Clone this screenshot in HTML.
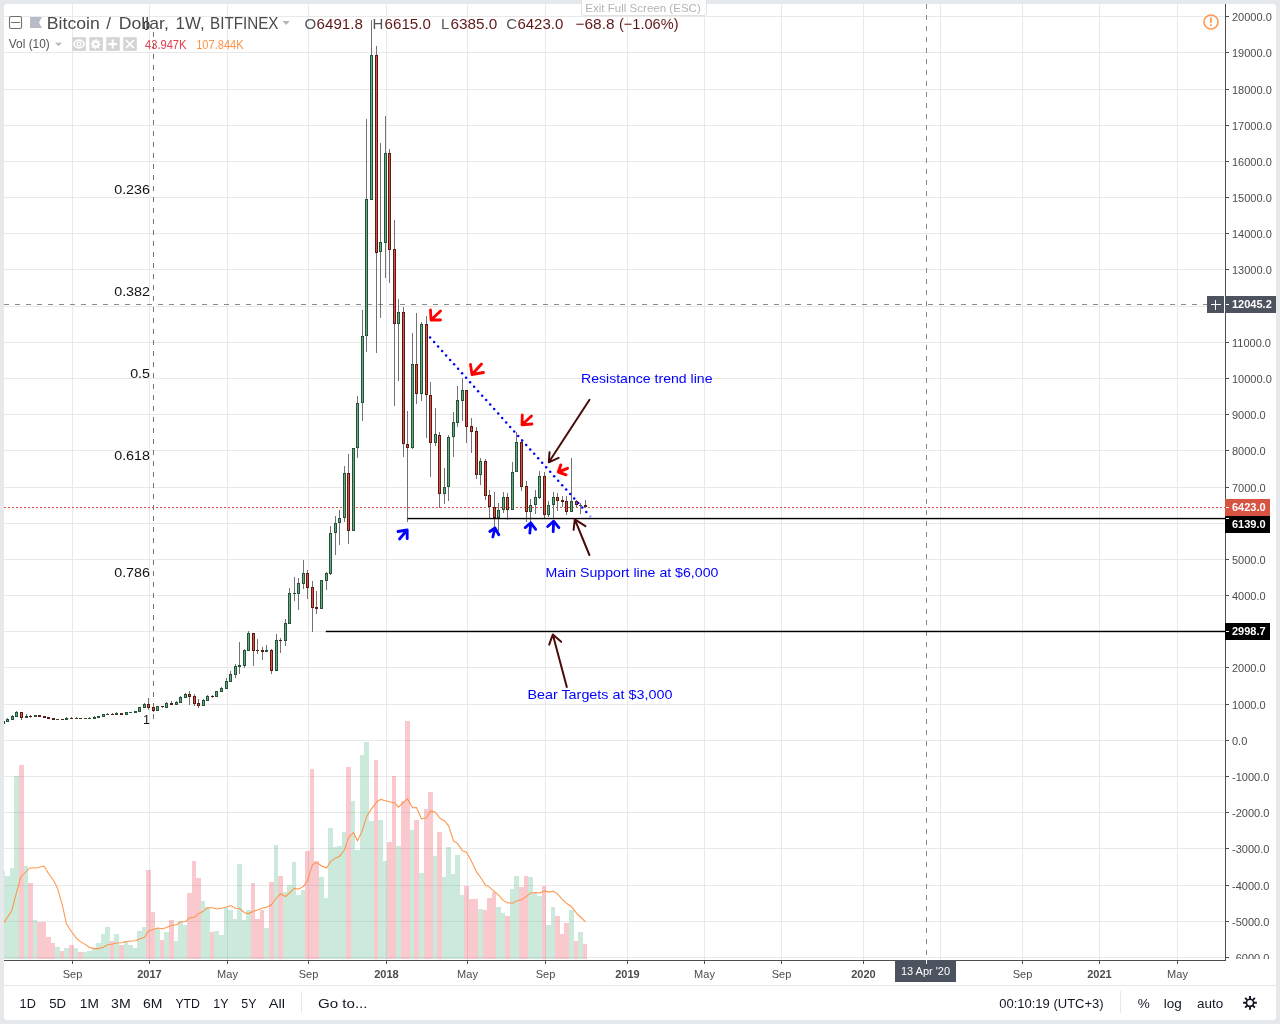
<!DOCTYPE html>
<html><head><meta charset="utf-8"><title>BTCUSD</title>
<style>html,body{margin:0;padding:0;width:1280px;height:1024px;overflow:hidden;background:#e6e9ec}</style>
</head><body>
<svg width="1280" height="1024" viewBox="0 0 1280 1024" style="position:absolute;left:0;top:0;will-change:transform"><rect x="0" y="0" width="1280" height="1024" fill="#e6e9ec"/><rect x="4" y="4" width="1272" height="1016" rx="3" ry="3" fill="#ffffff"/><rect x="4" y="985" width="1272" height="1" fill="#e6e9ec"/><g shape-rendering="crispEdges"><rect x="4" y="957" width="1221" height="1" fill="#e9e9ea"/><rect x="4" y="921" width="1221" height="1" fill="#e9e9ea"/><rect x="4" y="885" width="1221" height="1" fill="#e9e9ea"/><rect x="4" y="848" width="1221" height="1" fill="#e9e9ea"/><rect x="4" y="812" width="1221" height="1" fill="#e9e9ea"/><rect x="4" y="776" width="1221" height="1" fill="#e9e9ea"/><rect x="4" y="740" width="1221" height="1" fill="#e9e9ea"/><rect x="4" y="704" width="1221" height="1" fill="#e9e9ea"/><rect x="4" y="667" width="1221" height="1" fill="#e9e9ea"/><rect x="4" y="631" width="1221" height="1" fill="#e9e9ea"/><rect x="4" y="595" width="1221" height="1" fill="#e9e9ea"/><rect x="4" y="559" width="1221" height="1" fill="#e9e9ea"/><rect x="4" y="523" width="1221" height="1" fill="#e9e9ea"/><rect x="4" y="487" width="1221" height="1" fill="#e9e9ea"/><rect x="4" y="450" width="1221" height="1" fill="#e9e9ea"/><rect x="4" y="414" width="1221" height="1" fill="#e9e9ea"/><rect x="4" y="378" width="1221" height="1" fill="#e9e9ea"/><rect x="4" y="342" width="1221" height="1" fill="#e9e9ea"/><rect x="4" y="306" width="1221" height="1" fill="#e9e9ea"/><rect x="4" y="269" width="1221" height="1" fill="#e9e9ea"/><rect x="4" y="233" width="1221" height="1" fill="#e9e9ea"/><rect x="4" y="197" width="1221" height="1" fill="#e9e9ea"/><rect x="4" y="161" width="1221" height="1" fill="#e9e9ea"/><rect x="4" y="125" width="1221" height="1" fill="#e9e9ea"/><rect x="4" y="89" width="1221" height="1" fill="#e9e9ea"/><rect x="4" y="52" width="1221" height="1" fill="#e9e9ea"/><rect x="4" y="16" width="1221" height="1" fill="#e9e9ea"/><rect x="72" y="4" width="1" height="956" fill="#e9e9ea"/><rect x="149" y="4" width="1" height="956" fill="#e9e9ea"/><rect x="227" y="4" width="1" height="956" fill="#e9e9ea"/><rect x="308" y="4" width="1" height="956" fill="#e9e9ea"/><rect x="386" y="4" width="1" height="956" fill="#e9e9ea"/><rect x="467" y="4" width="1" height="956" fill="#e9e9ea"/><rect x="545" y="4" width="1" height="956" fill="#e9e9ea"/><rect x="627" y="4" width="1" height="956" fill="#e9e9ea"/><rect x="704" y="4" width="1" height="956" fill="#e9e9ea"/><rect x="781" y="4" width="1" height="956" fill="#e9e9ea"/><rect x="863" y="4" width="1" height="956" fill="#e9e9ea"/><rect x="940" y="4" width="1" height="956" fill="#e9e9ea"/><rect x="1022" y="4" width="1" height="956" fill="#e9e9ea"/><rect x="1099" y="4" width="1" height="956" fill="#e9e9ea"/><rect x="1177" y="4" width="1" height="956" fill="#e9e9ea"/></g><defs><clipPath id="chartclip"><rect x="4" y="4" width="1221" height="956"/></clipPath></defs><g shape-rendering="crispEdges" clip-path="url(#chartclip)"><rect x="4" y="871" width="1" height="88" fill="rgba(83,185,135,0.3)"/><rect x="5" y="876" width="5" height="83" fill="rgba(83,185,135,0.3)"/><rect x="10" y="868" width="4" height="91" fill="rgba(83,185,135,0.3)"/><rect x="14" y="776" width="5" height="183" fill="rgba(83,185,135,0.3)"/><rect x="19" y="765" width="5" height="194" fill="rgba(235,77,92,0.3)"/><rect x="24" y="866" width="4" height="93" fill="rgba(83,185,135,0.3)"/><rect x="28" y="883" width="5" height="76" fill="rgba(235,77,92,0.3)"/><rect x="33" y="920" width="4" height="39" fill="rgba(83,185,135,0.3)"/><rect x="37" y="922" width="5" height="37" fill="rgba(235,77,92,0.3)"/><rect x="42" y="922" width="4" height="37" fill="rgba(235,77,92,0.3)"/><rect x="46" y="937" width="5" height="22" fill="rgba(235,77,92,0.3)"/><rect x="51" y="943" width="4" height="16" fill="rgba(235,77,92,0.3)"/><rect x="55" y="947" width="5" height="12" fill="rgba(83,185,135,0.3)"/><rect x="60" y="951" width="4" height="8" fill="rgba(235,77,92,0.3)"/><rect x="64" y="948" width="5" height="11" fill="rgba(83,185,135,0.3)"/><rect x="69" y="945" width="5" height="14" fill="rgba(235,77,92,0.3)"/><rect x="74" y="948" width="4" height="11" fill="rgba(83,185,135,0.3)"/><rect x="78" y="952" width="5" height="7" fill="rgba(235,77,92,0.3)"/><rect x="83" y="952" width="4" height="7" fill="rgba(83,185,135,0.3)"/><rect x="87" y="951" width="5" height="8" fill="rgba(83,185,135,0.3)"/><rect x="92" y="948" width="4" height="11" fill="rgba(83,185,135,0.3)"/><rect x="96" y="943" width="5" height="16" fill="rgba(83,185,135,0.3)"/><rect x="101" y="934" width="4" height="25" fill="rgba(83,185,135,0.3)"/><rect x="105" y="927" width="5" height="32" fill="rgba(83,185,135,0.3)"/><rect x="110" y="941" width="4" height="18" fill="rgba(235,77,92,0.3)"/><rect x="114" y="934" width="5" height="25" fill="rgba(83,185,135,0.3)"/><rect x="119" y="945" width="5" height="14" fill="rgba(235,77,92,0.3)"/><rect x="124" y="941" width="4" height="18" fill="rgba(83,185,135,0.3)"/><rect x="128" y="945" width="5" height="14" fill="rgba(83,185,135,0.3)"/><rect x="133" y="948" width="4" height="11" fill="rgba(83,185,135,0.3)"/><rect x="137" y="931" width="5" height="28" fill="rgba(83,185,135,0.3)"/><rect x="142" y="927" width="4" height="32" fill="rgba(83,185,135,0.3)"/><rect x="146" y="870" width="5" height="89" fill="rgba(235,77,92,0.3)"/><rect x="151" y="912" width="4" height="47" fill="rgba(235,77,92,0.3)"/><rect x="155" y="928" width="5" height="31" fill="rgba(83,185,135,0.3)"/><rect x="160" y="940" width="4" height="19" fill="rgba(235,77,92,0.3)"/><rect x="164" y="932" width="5" height="27" fill="rgba(83,185,135,0.3)"/><rect x="169" y="920" width="5" height="39" fill="rgba(235,77,92,0.3)"/><rect x="174" y="941" width="4" height="18" fill="rgba(83,185,135,0.3)"/><rect x="178" y="921" width="5" height="38" fill="rgba(83,185,135,0.3)"/><rect x="183" y="925" width="4" height="34" fill="rgba(83,185,135,0.3)"/><rect x="187" y="893" width="5" height="66" fill="rgba(235,77,92,0.3)"/><rect x="192" y="861" width="4" height="98" fill="rgba(235,77,92,0.3)"/><rect x="196" y="878" width="5" height="81" fill="rgba(235,77,92,0.3)"/><rect x="201" y="901" width="4" height="58" fill="rgba(83,185,135,0.3)"/><rect x="205" y="907" width="5" height="52" fill="rgba(83,185,135,0.3)"/><rect x="210" y="932" width="4" height="27" fill="rgba(235,77,92,0.3)"/><rect x="214" y="931" width="5" height="28" fill="rgba(83,185,135,0.3)"/><rect x="219" y="935" width="5" height="24" fill="rgba(83,185,135,0.3)"/><rect x="224" y="908" width="4" height="51" fill="rgba(83,185,135,0.3)"/><rect x="228" y="910" width="5" height="49" fill="rgba(83,185,135,0.3)"/><rect x="233" y="919" width="4" height="40" fill="rgba(83,185,135,0.3)"/><rect x="237" y="864" width="5" height="95" fill="rgba(83,185,135,0.3)"/><rect x="242" y="920" width="4" height="39" fill="rgba(83,185,135,0.3)"/><rect x="246" y="910" width="5" height="49" fill="rgba(83,185,135,0.3)"/><rect x="251" y="883" width="4" height="76" fill="rgba(235,77,92,0.3)"/><rect x="255" y="919" width="5" height="40" fill="rgba(235,77,92,0.3)"/><rect x="260" y="910" width="4" height="49" fill="rgba(235,77,92,0.3)"/><rect x="264" y="928" width="5" height="31" fill="rgba(83,185,135,0.3)"/><rect x="269" y="882" width="5" height="77" fill="rgba(235,77,92,0.3)"/><rect x="274" y="845" width="4" height="114" fill="rgba(83,185,135,0.3)"/><rect x="278" y="876" width="5" height="83" fill="rgba(235,77,92,0.3)"/><rect x="283" y="892" width="4" height="67" fill="rgba(83,185,135,0.3)"/><rect x="287" y="885" width="5" height="74" fill="rgba(83,185,135,0.3)"/><rect x="292" y="862" width="4" height="97" fill="rgba(83,185,135,0.3)"/><rect x="296" y="895" width="5" height="64" fill="rgba(83,185,135,0.3)"/><rect x="301" y="890" width="4" height="69" fill="rgba(83,185,135,0.3)"/><rect x="305" y="851" width="5" height="108" fill="rgba(235,77,92,0.3)"/><rect x="310" y="769" width="4" height="190" fill="rgba(235,77,92,0.3)"/><rect x="314" y="861" width="5" height="98" fill="rgba(235,77,92,0.3)"/><rect x="319" y="877" width="5" height="82" fill="rgba(83,185,135,0.3)"/><rect x="324" y="898" width="4" height="61" fill="rgba(83,185,135,0.3)"/><rect x="328" y="828" width="5" height="131" fill="rgba(83,185,135,0.3)"/><rect x="333" y="847" width="4" height="112" fill="rgba(83,185,135,0.3)"/><rect x="337" y="846" width="5" height="113" fill="rgba(83,185,135,0.3)"/><rect x="342" y="832" width="4" height="127" fill="rgba(83,185,135,0.3)"/><rect x="346" y="767" width="5" height="192" fill="rgba(235,77,92,0.3)"/><rect x="351" y="801" width="4" height="158" fill="rgba(83,185,135,0.3)"/><rect x="355" y="850" width="5" height="109" fill="rgba(83,185,135,0.3)"/><rect x="360" y="755" width="4" height="204" fill="rgba(83,185,135,0.3)"/><rect x="364" y="742" width="5" height="217" fill="rgba(83,185,135,0.3)"/><rect x="369" y="821" width="5" height="138" fill="rgba(83,185,135,0.3)"/><rect x="374" y="760" width="4" height="199" fill="rgba(235,77,92,0.3)"/><rect x="378" y="820" width="5" height="139" fill="rgba(83,185,135,0.3)"/><rect x="383" y="861" width="4" height="98" fill="rgba(83,185,135,0.3)"/><rect x="387" y="842" width="5" height="117" fill="rgba(235,77,92,0.3)"/><rect x="392" y="776" width="4" height="183" fill="rgba(235,77,92,0.3)"/><rect x="396" y="846" width="5" height="113" fill="rgba(83,185,135,0.3)"/><rect x="401" y="801" width="4" height="158" fill="rgba(235,77,92,0.3)"/><rect x="405" y="721" width="5" height="238" fill="rgba(235,77,92,0.3)"/><rect x="410" y="830" width="4" height="129" fill="rgba(83,185,135,0.3)"/><rect x="414" y="820" width="5" height="139" fill="rgba(235,77,92,0.3)"/><rect x="419" y="873" width="5" height="86" fill="rgba(83,185,135,0.3)"/><rect x="424" y="809" width="4" height="150" fill="rgba(235,77,92,0.3)"/><rect x="428" y="792" width="5" height="167" fill="rgba(235,77,92,0.3)"/><rect x="433" y="856" width="4" height="103" fill="rgba(83,185,135,0.3)"/><rect x="437" y="832" width="5" height="127" fill="rgba(235,77,92,0.3)"/><rect x="442" y="877" width="4" height="82" fill="rgba(83,185,135,0.3)"/><rect x="446" y="847" width="5" height="112" fill="rgba(83,185,135,0.3)"/><rect x="451" y="874" width="4" height="85" fill="rgba(83,185,135,0.3)"/><rect x="455" y="855" width="5" height="104" fill="rgba(83,185,135,0.3)"/><rect x="460" y="895" width="4" height="64" fill="rgba(83,185,135,0.3)"/><rect x="464" y="886" width="5" height="73" fill="rgba(235,77,92,0.3)"/><rect x="469" y="899" width="5" height="60" fill="rgba(235,77,92,0.3)"/><rect x="474" y="899" width="4" height="60" fill="rgba(235,77,92,0.3)"/><rect x="478" y="909" width="5" height="50" fill="rgba(83,185,135,0.3)"/><rect x="483" y="910" width="4" height="49" fill="rgba(235,77,92,0.3)"/><rect x="487" y="898" width="5" height="61" fill="rgba(235,77,92,0.3)"/><rect x="492" y="892" width="4" height="67" fill="rgba(235,77,92,0.3)"/><rect x="496" y="907" width="5" height="52" fill="rgba(83,185,135,0.3)"/><rect x="501" y="913" width="4" height="46" fill="rgba(83,185,135,0.3)"/><rect x="505" y="916" width="5" height="43" fill="rgba(235,77,92,0.3)"/><rect x="510" y="889" width="4" height="70" fill="rgba(83,185,135,0.3)"/><rect x="514" y="876" width="5" height="83" fill="rgba(83,185,135,0.3)"/><rect x="519" y="887" width="5" height="72" fill="rgba(235,77,92,0.3)"/><rect x="524" y="876" width="4" height="83" fill="rgba(235,77,92,0.3)"/><rect x="528" y="877" width="5" height="82" fill="rgba(83,185,135,0.3)"/><rect x="533" y="893" width="4" height="66" fill="rgba(83,185,135,0.3)"/><rect x="537" y="896" width="5" height="63" fill="rgba(83,185,135,0.3)"/><rect x="542" y="886" width="4" height="73" fill="rgba(235,77,92,0.3)"/><rect x="546" y="925" width="5" height="34" fill="rgba(83,185,135,0.3)"/><rect x="551" y="907" width="4" height="52" fill="rgba(83,185,135,0.3)"/><rect x="555" y="916" width="5" height="43" fill="rgba(235,77,92,0.3)"/><rect x="560" y="934" width="4" height="25" fill="rgba(235,77,92,0.3)"/><rect x="564" y="923" width="5" height="36" fill="rgba(235,77,92,0.3)"/><rect x="569" y="910" width="5" height="49" fill="rgba(83,185,135,0.3)"/><rect x="574" y="941" width="4" height="18" fill="rgba(235,77,92,0.3)"/><rect x="578" y="932" width="5" height="27" fill="rgba(83,185,135,0.3)"/><rect x="583" y="944" width="4" height="15" fill="rgba(235,77,92,0.3)"/></g><path d="M3.9,922.6 L11.6,911.0 L20.7,877.0 L29.8,868.0 L36.2,868.0 L44.0,866.0 L48.5,873.5 L53.5,880.3 L57.5,888.2 L62.5,905.6 L66.5,924.0 L71.5,931.8 L76.5,938.4 L80.5,941.6 L85.5,944.6 L89.5,947.4 L94.5,948.6 L98.5,948.6 L103.5,947.3 L107.5,944.8 L112.5,944.1 L116.5,943.0 L121.5,942.7 L126.5,941.5 L130.5,940.9 L135.5,940.7 L139.5,939.0 L144.5,937.3 L148.5,930.9 L153.5,929.4 L157.5,928.1 L162.5,928.7 L166.5,927.4 L171.5,925.2 L176.5,924.8 L180.5,922.1 L185.5,921.5 L189.5,918.1 L194.5,917.2 L198.5,913.8 L203.5,911.1 L207.5,907.8 L212.5,907.8 L216.5,909.0 L221.5,908.3 L226.5,907.1 L230.5,905.6 L235.5,908.2 L239.5,908.5 L244.5,912.7 L248.5,913.6 L253.5,911.3 L257.5,910.0 L262.5,907.9 L266.5,907.2 L271.5,904.5 L276.5,898.0 L280.5,893.7 L285.5,896.5 L289.5,893.0 L294.5,888.2 L298.5,889.3 L303.5,886.4 L307.5,880.5 L312.5,864.7 L316.5,862.6 L321.5,865.8 L326.5,868.0 L330.5,861.7 L335.5,857.9 L339.5,856.2 L344.5,850.0 L348.5,837.7 L353.5,832.7 L357.5,840.8 L362.5,830.1 L366.5,816.6 L371.5,808.9 L376.5,802.1 L380.5,799.4 L385.5,800.8 L389.5,801.8 L394.5,802.7 L398.5,807.2 L403.5,802.3 L407.5,798.9 L412.5,807.7 L416.5,807.6 L421.5,818.9 L426.5,817.8 L430.5,810.9 L435.5,812.3 L439.5,817.9 L444.5,821.0 L448.5,825.6 L453.5,840.9 L457.5,843.4 L462.5,850.9 L466.5,852.2 L471.5,861.2 L476.5,871.9 L480.5,877.2 L485.5,885.0 L489.5,887.1 L494.5,891.6 L498.5,894.9 L503.5,900.7 L507.5,902.8 L512.5,903.2 L516.5,900.9 L521.5,899.7 L526.5,896.4 L530.5,893.1 L535.5,892.6 L539.5,893.0 L544.5,890.9 L548.5,892.1 L553.5,891.2 L557.5,893.9 L562.5,899.7 L566.5,903.3 L571.5,906.7 L576.5,913.1 L580.5,917.0 L585.5,921.8" fill="none" stroke="#ff9448" stroke-width="1.05"/><line x1="153.5" y1="32" x2="153.5" y2="720" stroke="#747474" stroke-width="1" stroke-dasharray="5,6" shape-rendering="crispEdges"/><text x="150" y="29.5" font-family='"Liberation Sans", sans-serif' font-size="12.5" font-weight="normal" text-anchor="end" fill="#131313">0</text><text x="150" y="194" font-family='"Liberation Sans", sans-serif' font-size="12.5" font-weight="normal" text-anchor="end" fill="#131313" textLength="35.8" lengthAdjust="spacingAndGlyphs">0.236</text><text x="150" y="296" font-family='"Liberation Sans", sans-serif' font-size="12.5" font-weight="normal" text-anchor="end" fill="#131313" textLength="35.8" lengthAdjust="spacingAndGlyphs">0.382</text><text x="150" y="377.6" font-family='"Liberation Sans", sans-serif' font-size="12.5" font-weight="normal" text-anchor="end" fill="#131313" textLength="19.8" lengthAdjust="spacingAndGlyphs">0.5</text><text x="150" y="460.3" font-family='"Liberation Sans", sans-serif' font-size="12.5" font-weight="normal" text-anchor="end" fill="#131313" textLength="35.8" lengthAdjust="spacingAndGlyphs">0.618</text><text x="150" y="577" font-family='"Liberation Sans", sans-serif' font-size="12.5" font-weight="normal" text-anchor="end" fill="#131313" textLength="35.8" lengthAdjust="spacingAndGlyphs">0.786</text><text x="150" y="724.4" font-family='"Liberation Sans", sans-serif' font-size="12.5" font-weight="normal" text-anchor="end" fill="#131313">1</text><line x1="4" y1="304.5" x2="1207" y2="304.5" stroke="#8a8a8a" stroke-width="1" stroke-dasharray="5,6" shape-rendering="crispEdges"/><line x1="926.5" y1="4" x2="926.5" y2="960" stroke="#8a8a8a" stroke-width="1" stroke-dasharray="5,6" shape-rendering="crispEdges"/><line x1="4" y1="507.5" x2="1225" y2="507.5" stroke="#d75442" stroke-width="1" stroke-dasharray="2,2" shape-rendering="crispEdges"/><g shape-rendering="crispEdges" clip-path="url(#chartclip)"><rect x="3" y="721" width="1" height="4" fill="#737375"/><rect x="2" y="721" width="3" height="3" fill="#225437"/><rect x="3" y="722" width="1" height="1" fill="#6ba583"/><rect x="7" y="718" width="1" height="4" fill="#737375"/><rect x="6" y="719" width="3" height="3" fill="#225437"/><rect x="7" y="720" width="1" height="1" fill="#6ba583"/><rect x="12" y="715" width="1" height="5" fill="#737375"/><rect x="11" y="716" width="3" height="4" fill="#225437"/><rect x="12" y="717" width="1" height="2" fill="#6ba583"/><rect x="16" y="711" width="1" height="6" fill="#737375"/><rect x="15" y="712" width="3" height="5" fill="#225437"/><rect x="16" y="713" width="1" height="3" fill="#6ba583"/><rect x="21" y="712" width="1" height="8" fill="#737375"/><rect x="20" y="712" width="3" height="6" fill="#5b1a13"/><rect x="21" y="713" width="1" height="4" fill="#d75442"/><rect x="26" y="714" width="1" height="4" fill="#737375"/><rect x="25" y="716" width="3" height="2" fill="#225437"/><rect x="30" y="715" width="1" height="3" fill="#737375"/><rect x="29" y="716" width="3" height="1" fill="#5b1a13"/><rect x="35" y="715" width="1" height="2" fill="#737375"/><rect x="34" y="715" width="3" height="2" fill="#225437"/><rect x="39" y="715" width="1" height="2" fill="#737375"/><rect x="38" y="715" width="3" height="2" fill="#5b1a13"/><rect x="44" y="716" width="1" height="2" fill="#737375"/><rect x="43" y="716" width="3" height="2" fill="#5b1a13"/><rect x="48" y="717" width="1" height="2" fill="#737375"/><rect x="47" y="717" width="3" height="2" fill="#5b1a13"/><rect x="53" y="718" width="1" height="2" fill="#737375"/><rect x="52" y="718" width="3" height="2" fill="#5b1a13"/><rect x="57" y="719" width="1" height="1" fill="#737375"/><rect x="56" y="719" width="3" height="1" fill="#225437"/><rect x="62" y="719" width="1" height="1" fill="#737375"/><rect x="61" y="719" width="3" height="1" fill="#5b1a13"/><rect x="66" y="717" width="1" height="3" fill="#737375"/><rect x="65" y="718" width="3" height="2" fill="#225437"/><rect x="71" y="717" width="1" height="2" fill="#737375"/><rect x="70" y="718" width="3" height="1" fill="#5b1a13"/><rect x="76" y="717" width="1" height="2" fill="#737375"/><rect x="75" y="718" width="3" height="1" fill="#225437"/><rect x="80" y="718" width="1" height="1" fill="#737375"/><rect x="79" y="718" width="3" height="1" fill="#5b1a13"/><rect x="85" y="718" width="1" height="1" fill="#737375"/><rect x="84" y="718" width="3" height="1" fill="#225437"/><rect x="89" y="717" width="1" height="2" fill="#737375"/><rect x="88" y="718" width="3" height="1" fill="#225437"/><rect x="94" y="716" width="1" height="3" fill="#737375"/><rect x="93" y="717" width="3" height="2" fill="#225437"/><rect x="98" y="716" width="1" height="2" fill="#737375"/><rect x="97" y="716" width="3" height="2" fill="#225437"/><rect x="103" y="714" width="1" height="3" fill="#737375"/><rect x="102" y="714" width="3" height="3" fill="#225437"/><rect x="103" y="715" width="1" height="1" fill="#6ba583"/><rect x="107" y="713" width="1" height="2" fill="#737375"/><rect x="106" y="714" width="3" height="1" fill="#225437"/><rect x="112" y="713" width="1" height="2" fill="#737375"/><rect x="111" y="714" width="3" height="1" fill="#5b1a13"/><rect x="116" y="712" width="1" height="3" fill="#737375"/><rect x="115" y="713" width="3" height="2" fill="#225437"/><rect x="121" y="713" width="1" height="2" fill="#737375"/><rect x="120" y="713" width="3" height="2" fill="#5b1a13"/><rect x="126" y="712" width="1" height="3" fill="#737375"/><rect x="125" y="712" width="3" height="3" fill="#225437"/><rect x="126" y="713" width="1" height="1" fill="#6ba583"/><rect x="130" y="712" width="1" height="1" fill="#737375"/><rect x="129" y="712" width="3" height="1" fill="#225437"/><rect x="135" y="711" width="1" height="2" fill="#737375"/><rect x="134" y="711" width="3" height="2" fill="#225437"/><rect x="139" y="707" width="1" height="5" fill="#737375"/><rect x="138" y="707" width="3" height="5" fill="#225437"/><rect x="139" y="708" width="1" height="3" fill="#6ba583"/><rect x="144" y="703" width="1" height="5" fill="#737375"/><rect x="143" y="704" width="3" height="4" fill="#225437"/><rect x="144" y="705" width="1" height="2" fill="#6ba583"/><rect x="148" y="698" width="1" height="12" fill="#737375"/><rect x="147" y="704" width="3" height="4" fill="#5b1a13"/><rect x="148" y="705" width="1" height="2" fill="#d75442"/><rect x="153" y="705" width="1" height="7" fill="#737375"/><rect x="152" y="707" width="3" height="4" fill="#5b1a13"/><rect x="153" y="708" width="1" height="2" fill="#d75442"/><rect x="157" y="706" width="1" height="5" fill="#737375"/><rect x="156" y="706" width="3" height="5" fill="#225437"/><rect x="157" y="707" width="1" height="3" fill="#6ba583"/><rect x="162" y="706" width="1" height="2" fill="#737375"/><rect x="161" y="706" width="3" height="1" fill="#5b1a13"/><rect x="166" y="702" width="1" height="6" fill="#737375"/><rect x="165" y="703" width="3" height="5" fill="#225437"/><rect x="166" y="704" width="1" height="3" fill="#6ba583"/><rect x="171" y="701" width="1" height="4" fill="#737375"/><rect x="170" y="703" width="3" height="2" fill="#5b1a13"/><rect x="176" y="701" width="1" height="4" fill="#737375"/><rect x="175" y="702" width="3" height="3" fill="#225437"/><rect x="176" y="703" width="1" height="1" fill="#6ba583"/><rect x="180" y="696" width="1" height="7" fill="#737375"/><rect x="179" y="697" width="3" height="6" fill="#225437"/><rect x="180" y="698" width="1" height="4" fill="#6ba583"/><rect x="185" y="693" width="1" height="5" fill="#737375"/><rect x="184" y="694" width="3" height="4" fill="#225437"/><rect x="185" y="695" width="1" height="2" fill="#6ba583"/><rect x="189" y="691" width="1" height="14" fill="#737375"/><rect x="188" y="694" width="3" height="3" fill="#5b1a13"/><rect x="189" y="695" width="1" height="1" fill="#d75442"/><rect x="194" y="694" width="1" height="12" fill="#737375"/><rect x="193" y="696" width="3" height="8" fill="#5b1a13"/><rect x="194" y="697" width="1" height="6" fill="#d75442"/><rect x="198" y="699" width="1" height="9" fill="#737375"/><rect x="197" y="703" width="3" height="3" fill="#5b1a13"/><rect x="198" y="704" width="1" height="1" fill="#d75442"/><rect x="203" y="699" width="1" height="7" fill="#737375"/><rect x="202" y="700" width="3" height="6" fill="#225437"/><rect x="203" y="701" width="1" height="4" fill="#6ba583"/><rect x="207" y="695" width="1" height="6" fill="#737375"/><rect x="206" y="696" width="3" height="5" fill="#225437"/><rect x="207" y="697" width="1" height="3" fill="#6ba583"/><rect x="212" y="695" width="1" height="3" fill="#737375"/><rect x="211" y="696" width="3" height="1" fill="#5b1a13"/><rect x="216" y="691" width="1" height="6" fill="#737375"/><rect x="215" y="691" width="3" height="6" fill="#225437"/><rect x="216" y="692" width="1" height="4" fill="#6ba583"/><rect x="221" y="687" width="1" height="5" fill="#737375"/><rect x="220" y="688" width="3" height="4" fill="#225437"/><rect x="221" y="689" width="1" height="2" fill="#6ba583"/><rect x="226" y="678" width="1" height="11" fill="#737375"/><rect x="225" y="681" width="3" height="8" fill="#225437"/><rect x="226" y="682" width="1" height="6" fill="#6ba583"/><rect x="230" y="671" width="1" height="11" fill="#737375"/><rect x="229" y="674" width="3" height="8" fill="#225437"/><rect x="230" y="675" width="1" height="6" fill="#6ba583"/><rect x="235" y="664" width="1" height="14" fill="#737375"/><rect x="234" y="666" width="3" height="9" fill="#225437"/><rect x="235" y="667" width="1" height="7" fill="#6ba583"/><rect x="239" y="642" width="1" height="32" fill="#737375"/><rect x="238" y="665" width="3" height="2" fill="#225437"/><rect x="244" y="649" width="1" height="19" fill="#737375"/><rect x="243" y="650" width="3" height="16" fill="#225437"/><rect x="244" y="651" width="1" height="14" fill="#6ba583"/><rect x="248" y="631" width="1" height="20" fill="#737375"/><rect x="247" y="633" width="3" height="18" fill="#225437"/><rect x="248" y="634" width="1" height="16" fill="#6ba583"/><rect x="253" y="633" width="1" height="33" fill="#737375"/><rect x="252" y="633" width="3" height="18" fill="#5b1a13"/><rect x="253" y="634" width="1" height="16" fill="#d75442"/><rect x="257" y="639" width="1" height="15" fill="#737375"/><rect x="256" y="650" width="3" height="1" fill="#5b1a13"/><rect x="262" y="647" width="1" height="13" fill="#737375"/><rect x="261" y="650" width="3" height="2" fill="#5b1a13"/><rect x="266" y="645" width="1" height="7" fill="#737375"/><rect x="265" y="650" width="3" height="2" fill="#225437"/><rect x="271" y="649" width="1" height="25" fill="#737375"/><rect x="270" y="650" width="3" height="21" fill="#5b1a13"/><rect x="271" y="651" width="1" height="19" fill="#d75442"/><rect x="276" y="634" width="1" height="37" fill="#737375"/><rect x="275" y="640" width="3" height="31" fill="#225437"/><rect x="276" y="641" width="1" height="29" fill="#6ba583"/><rect x="280" y="638" width="1" height="15" fill="#737375"/><rect x="279" y="640" width="3" height="1" fill="#5b1a13"/><rect x="285" y="619" width="1" height="27" fill="#737375"/><rect x="284" y="623" width="3" height="18" fill="#225437"/><rect x="285" y="624" width="1" height="16" fill="#6ba583"/><rect x="289" y="588" width="1" height="36" fill="#737375"/><rect x="288" y="593" width="3" height="31" fill="#225437"/><rect x="289" y="594" width="1" height="29" fill="#6ba583"/><rect x="294" y="577" width="1" height="24" fill="#737375"/><rect x="293" y="593" width="3" height="1" fill="#225437"/><rect x="298" y="578" width="1" height="32" fill="#737375"/><rect x="297" y="583" width="3" height="11" fill="#225437"/><rect x="298" y="584" width="1" height="9" fill="#6ba583"/><rect x="303" y="560" width="1" height="29" fill="#737375"/><rect x="302" y="573" width="3" height="11" fill="#225437"/><rect x="303" y="574" width="1" height="9" fill="#6ba583"/><rect x="307" y="570" width="1" height="29" fill="#737375"/><rect x="306" y="573" width="3" height="15" fill="#5b1a13"/><rect x="307" y="574" width="1" height="13" fill="#d75442"/><rect x="312" y="581" width="1" height="51" fill="#737375"/><rect x="311" y="587" width="3" height="21" fill="#5b1a13"/><rect x="312" y="588" width="1" height="19" fill="#d75442"/><rect x="316" y="591" width="1" height="23" fill="#737375"/><rect x="315" y="607" width="3" height="2" fill="#5b1a13"/><rect x="321" y="580" width="1" height="29" fill="#737375"/><rect x="320" y="580" width="3" height="29" fill="#225437"/><rect x="321" y="581" width="1" height="27" fill="#6ba583"/><rect x="326" y="572" width="1" height="18" fill="#737375"/><rect x="325" y="573" width="3" height="8" fill="#225437"/><rect x="326" y="574" width="1" height="6" fill="#6ba583"/><rect x="330" y="526" width="1" height="49" fill="#737375"/><rect x="329" y="533" width="3" height="41" fill="#225437"/><rect x="330" y="534" width="1" height="39" fill="#6ba583"/><rect x="335" y="516" width="1" height="39" fill="#737375"/><rect x="334" y="523" width="3" height="10" fill="#225437"/><rect x="335" y="524" width="1" height="8" fill="#6ba583"/><rect x="339" y="510" width="1" height="35" fill="#737375"/><rect x="338" y="518" width="3" height="5" fill="#225437"/><rect x="339" y="519" width="1" height="3" fill="#6ba583"/><rect x="344" y="466" width="1" height="56" fill="#737375"/><rect x="343" y="473" width="3" height="45" fill="#225437"/><rect x="344" y="474" width="1" height="43" fill="#6ba583"/><rect x="348" y="454" width="1" height="90" fill="#737375"/><rect x="347" y="473" width="3" height="58" fill="#5b1a13"/><rect x="348" y="474" width="1" height="56" fill="#d75442"/><rect x="353" y="448" width="1" height="83" fill="#737375"/><rect x="352" y="448" width="3" height="83" fill="#225437"/><rect x="353" y="449" width="1" height="81" fill="#6ba583"/><rect x="357" y="396" width="1" height="62" fill="#737375"/><rect x="356" y="403" width="3" height="45" fill="#225437"/><rect x="357" y="404" width="1" height="43" fill="#6ba583"/><rect x="362" y="310" width="1" height="111" fill="#737375"/><rect x="361" y="336" width="3" height="67" fill="#225437"/><rect x="362" y="337" width="1" height="65" fill="#6ba583"/><rect x="366" y="119" width="1" height="233" fill="#737375"/><rect x="365" y="199" width="3" height="137" fill="#225437"/><rect x="366" y="200" width="1" height="135" fill="#6ba583"/><rect x="371" y="20" width="1" height="180" fill="#737375"/><rect x="370" y="55" width="3" height="145" fill="#225437"/><rect x="371" y="56" width="1" height="143" fill="#6ba583"/><rect x="376" y="46" width="1" height="307" fill="#737375"/><rect x="375" y="55" width="3" height="198" fill="#5b1a13"/><rect x="376" y="56" width="1" height="196" fill="#d75442"/><rect x="380" y="143" width="1" height="175" fill="#737375"/><rect x="379" y="242" width="3" height="10" fill="#225437"/><rect x="380" y="243" width="1" height="8" fill="#6ba583"/><rect x="385" y="116" width="1" height="162" fill="#737375"/><rect x="384" y="153" width="3" height="90" fill="#225437"/><rect x="385" y="154" width="1" height="88" fill="#6ba583"/><rect x="389" y="149" width="1" height="134" fill="#737375"/><rect x="388" y="153" width="3" height="97" fill="#5b1a13"/><rect x="389" y="154" width="1" height="95" fill="#d75442"/><rect x="394" y="220" width="1" height="186" fill="#737375"/><rect x="393" y="249" width="3" height="75" fill="#5b1a13"/><rect x="394" y="250" width="1" height="73" fill="#d75442"/><rect x="398" y="299" width="1" height="82" fill="#737375"/><rect x="397" y="312" width="3" height="12" fill="#225437"/><rect x="398" y="313" width="1" height="10" fill="#6ba583"/><rect x="403" y="307" width="1" height="150" fill="#737375"/><rect x="402" y="312" width="3" height="132" fill="#5b1a13"/><rect x="403" y="313" width="1" height="130" fill="#d75442"/><rect x="407" y="411" width="1" height="111" fill="#737375"/><rect x="406" y="444" width="3" height="4" fill="#5b1a13"/><rect x="407" y="445" width="1" height="2" fill="#d75442"/><rect x="412" y="333" width="1" height="116" fill="#737375"/><rect x="411" y="364" width="3" height="84" fill="#225437"/><rect x="412" y="365" width="1" height="82" fill="#6ba583"/><rect x="416" y="313" width="1" height="91" fill="#737375"/><rect x="415" y="364" width="3" height="30" fill="#5b1a13"/><rect x="416" y="365" width="1" height="28" fill="#d75442"/><rect x="421" y="322" width="1" height="79" fill="#737375"/><rect x="420" y="324" width="3" height="70" fill="#225437"/><rect x="421" y="325" width="1" height="68" fill="#6ba583"/><rect x="426" y="316" width="1" height="122" fill="#737375"/><rect x="425" y="324" width="3" height="71" fill="#5b1a13"/><rect x="426" y="325" width="1" height="69" fill="#d75442"/><rect x="430" y="382" width="1" height="95" fill="#737375"/><rect x="429" y="395" width="3" height="48" fill="#5b1a13"/><rect x="430" y="396" width="1" height="46" fill="#d75442"/><rect x="435" y="408" width="1" height="38" fill="#737375"/><rect x="434" y="434" width="3" height="9" fill="#225437"/><rect x="435" y="435" width="1" height="7" fill="#6ba583"/><rect x="439" y="432" width="1" height="76" fill="#737375"/><rect x="438" y="435" width="3" height="59" fill="#5b1a13"/><rect x="439" y="436" width="1" height="57" fill="#d75442"/><rect x="444" y="468" width="1" height="36" fill="#737375"/><rect x="443" y="487" width="3" height="7" fill="#225437"/><rect x="444" y="488" width="1" height="5" fill="#6ba583"/><rect x="448" y="435" width="1" height="66" fill="#737375"/><rect x="447" y="437" width="3" height="50" fill="#225437"/><rect x="448" y="438" width="1" height="48" fill="#6ba583"/><rect x="453" y="412" width="1" height="45" fill="#737375"/><rect x="452" y="422" width="3" height="15" fill="#225437"/><rect x="453" y="423" width="1" height="13" fill="#6ba583"/><rect x="457" y="386" width="1" height="41" fill="#737375"/><rect x="456" y="400" width="3" height="23" fill="#225437"/><rect x="457" y="401" width="1" height="21" fill="#6ba583"/><rect x="462" y="378" width="1" height="43" fill="#737375"/><rect x="461" y="390" width="3" height="11" fill="#225437"/><rect x="462" y="391" width="1" height="9" fill="#6ba583"/><rect x="466" y="390" width="1" height="53" fill="#737375"/><rect x="465" y="390" width="3" height="37" fill="#5b1a13"/><rect x="466" y="391" width="1" height="35" fill="#d75442"/><rect x="471" y="418" width="1" height="35" fill="#737375"/><rect x="470" y="426" width="3" height="6" fill="#5b1a13"/><rect x="471" y="427" width="1" height="4" fill="#d75442"/><rect x="476" y="427" width="1" height="52" fill="#737375"/><rect x="475" y="431" width="3" height="44" fill="#5b1a13"/><rect x="476" y="432" width="1" height="42" fill="#d75442"/><rect x="480" y="458" width="1" height="27" fill="#737375"/><rect x="479" y="461" width="3" height="14" fill="#225437"/><rect x="480" y="462" width="1" height="12" fill="#6ba583"/><rect x="485" y="459" width="1" height="41" fill="#737375"/><rect x="484" y="461" width="3" height="35" fill="#5b1a13"/><rect x="485" y="462" width="1" height="33" fill="#d75442"/><rect x="489" y="490" width="1" height="28" fill="#737375"/><rect x="488" y="495" width="3" height="12" fill="#5b1a13"/><rect x="489" y="496" width="1" height="10" fill="#d75442"/><rect x="494" y="492" width="1" height="40" fill="#737375"/><rect x="493" y="507" width="3" height="11" fill="#5b1a13"/><rect x="494" y="508" width="1" height="9" fill="#d75442"/><rect x="498" y="503" width="1" height="28" fill="#737375"/><rect x="497" y="510" width="3" height="8" fill="#225437"/><rect x="498" y="511" width="1" height="6" fill="#6ba583"/><rect x="503" y="492" width="1" height="21" fill="#737375"/><rect x="502" y="497" width="3" height="13" fill="#225437"/><rect x="503" y="498" width="1" height="11" fill="#6ba583"/><rect x="507" y="493" width="1" height="27" fill="#737375"/><rect x="506" y="497" width="3" height="13" fill="#5b1a13"/><rect x="507" y="498" width="1" height="11" fill="#d75442"/><rect x="512" y="462" width="1" height="48" fill="#737375"/><rect x="511" y="472" width="3" height="38" fill="#225437"/><rect x="512" y="473" width="1" height="36" fill="#6ba583"/><rect x="516" y="432" width="1" height="40" fill="#737375"/><rect x="515" y="442" width="3" height="30" fill="#225437"/><rect x="516" y="443" width="1" height="28" fill="#6ba583"/><rect x="521" y="439" width="1" height="52" fill="#737375"/><rect x="520" y="442" width="3" height="45" fill="#5b1a13"/><rect x="521" y="443" width="1" height="43" fill="#d75442"/><rect x="526" y="481" width="1" height="41" fill="#737375"/><rect x="525" y="486" width="3" height="26" fill="#5b1a13"/><rect x="526" y="487" width="1" height="24" fill="#d75442"/><rect x="530" y="499" width="1" height="29" fill="#737375"/><rect x="529" y="505" width="3" height="7" fill="#225437"/><rect x="530" y="506" width="1" height="5" fill="#6ba583"/><rect x="535" y="490" width="1" height="24" fill="#737375"/><rect x="534" y="497" width="3" height="8" fill="#225437"/><rect x="535" y="498" width="1" height="6" fill="#6ba583"/><rect x="539" y="471" width="1" height="28" fill="#737375"/><rect x="538" y="476" width="3" height="22" fill="#225437"/><rect x="539" y="477" width="1" height="20" fill="#6ba583"/><rect x="544" y="472" width="1" height="46" fill="#737375"/><rect x="543" y="476" width="3" height="39" fill="#5b1a13"/><rect x="544" y="477" width="1" height="37" fill="#d75442"/><rect x="548" y="501" width="1" height="16" fill="#737375"/><rect x="547" y="505" width="3" height="10" fill="#225437"/><rect x="548" y="506" width="1" height="8" fill="#6ba583"/><rect x="553" y="492" width="1" height="26" fill="#737375"/><rect x="552" y="497" width="3" height="8" fill="#225437"/><rect x="553" y="498" width="1" height="6" fill="#6ba583"/><rect x="557" y="493" width="1" height="18" fill="#737375"/><rect x="556" y="497" width="3" height="4" fill="#5b1a13"/><rect x="557" y="498" width="1" height="2" fill="#d75442"/><rect x="562" y="496" width="1" height="11" fill="#737375"/><rect x="561" y="500" width="3" height="2" fill="#5b1a13"/><rect x="566" y="496" width="1" height="19" fill="#737375"/><rect x="565" y="501" width="3" height="11" fill="#5b1a13"/><rect x="566" y="502" width="1" height="9" fill="#d75442"/><rect x="571" y="458" width="1" height="54" fill="#737375"/><rect x="570" y="501" width="3" height="11" fill="#225437"/><rect x="571" y="502" width="1" height="9" fill="#6ba583"/><rect x="576" y="500" width="1" height="7" fill="#737375"/><rect x="575" y="501" width="3" height="4" fill="#5b1a13"/><rect x="576" y="502" width="1" height="2" fill="#d75442"/><rect x="580" y="503" width="1" height="11" fill="#737375"/><rect x="579" y="505" width="3" height="1" fill="#225437"/><rect x="585" y="500" width="1" height="8" fill="#737375"/><rect x="584" y="505" width="3" height="2" fill="#5b1a13"/></g><rect x="407.5" y="517.85" width="817.5" height="1.4" fill="#000"/><rect x="325.8" y="630.75" width="899.2" height="1.45" fill="#000"/><circle cx="430.1" cy="337.5" r="1.25" fill="#0000ff" fill-opacity="1"/><circle cx="434.1" cy="342.0" r="1.25" fill="#0000ff" fill-opacity="1"/><circle cx="438.1" cy="346.4" r="1.25" fill="#0000ff" fill-opacity="1"/><circle cx="442.1" cy="350.9" r="1.25" fill="#0000ff" fill-opacity="1"/><circle cx="446.1" cy="355.4" r="1.25" fill="#0000ff" fill-opacity="1"/><circle cx="450.1" cy="359.9" r="1.25" fill="#0000ff" fill-opacity="1"/><circle cx="454.1" cy="364.3" r="1.25" fill="#0000ff" fill-opacity="1"/><circle cx="458.1" cy="368.8" r="1.25" fill="#0000ff" fill-opacity="1"/><circle cx="462.1" cy="373.3" r="1.25" fill="#0000ff" fill-opacity="1"/><circle cx="466.1" cy="377.8" r="1.25" fill="#0000ff" fill-opacity="1"/><circle cx="470.1" cy="382.2" r="1.25" fill="#0000ff" fill-opacity="1"/><circle cx="474.1" cy="386.7" r="1.25" fill="#0000ff" fill-opacity="1"/><circle cx="478.1" cy="391.2" r="1.25" fill="#0000ff" fill-opacity="1"/><circle cx="482.2" cy="395.7" r="1.25" fill="#0000ff" fill-opacity="1"/><circle cx="486.2" cy="400.1" r="1.25" fill="#0000ff" fill-opacity="1"/><circle cx="490.2" cy="404.6" r="1.25" fill="#0000ff" fill-opacity="1"/><circle cx="494.2" cy="409.1" r="1.25" fill="#0000ff" fill-opacity="1"/><circle cx="498.2" cy="413.6" r="1.25" fill="#0000ff" fill-opacity="1"/><circle cx="502.2" cy="418.0" r="1.25" fill="#0000ff" fill-opacity="1"/><circle cx="506.2" cy="422.5" r="1.25" fill="#0000ff" fill-opacity="1"/><circle cx="510.2" cy="427.0" r="1.25" fill="#0000ff" fill-opacity="1"/><circle cx="514.2" cy="431.5" r="1.25" fill="#0000ff" fill-opacity="1"/><circle cx="518.2" cy="435.9" r="1.25" fill="#0000ff" fill-opacity="1"/><circle cx="522.2" cy="440.4" r="1.25" fill="#0000ff" fill-opacity="1"/><circle cx="526.2" cy="444.9" r="1.25" fill="#0000ff" fill-opacity="1"/><circle cx="530.2" cy="449.4" r="1.25" fill="#0000ff" fill-opacity="1"/><circle cx="534.2" cy="453.8" r="1.25" fill="#0000ff" fill-opacity="1"/><circle cx="538.2" cy="458.3" r="1.25" fill="#0000ff" fill-opacity="1"/><circle cx="542.2" cy="462.8" r="1.25" fill="#0000ff" fill-opacity="1"/><circle cx="546.2" cy="467.3" r="1.25" fill="#0000ff" fill-opacity="1"/><circle cx="550.2" cy="471.7" r="1.25" fill="#0000ff" fill-opacity="1"/><circle cx="554.2" cy="476.2" r="1.25" fill="#0000ff" fill-opacity="1"/><circle cx="558.2" cy="480.7" r="1.25" fill="#0000ff" fill-opacity="1"/><circle cx="562.2" cy="485.2" r="1.25" fill="#0000ff" fill-opacity="1"/><circle cx="566.2" cy="489.6" r="1.25" fill="#0000ff" fill-opacity="1"/><circle cx="570.2" cy="494.1" r="1.25" fill="#0000ff" fill-opacity="1"/><circle cx="574.2" cy="498.6" r="1.25" fill="#0000ff" fill-opacity="1"/><circle cx="578.2" cy="503.1" r="1.25" fill="#0000ff" fill-opacity="1"/><circle cx="582.3" cy="507.5" r="1.25" fill="#0000ff" fill-opacity="1"/><circle cx="586.3" cy="512.0" r="1.25" fill="#0000ff" fill-opacity="1"/><circle cx="590.3" cy="516.5" r="1.25" fill="#0000ff" fill-opacity="0.35"/><path d="M440.5,311 L431,320 M430.5,310 L431,320 L440.5,320" fill="none" stroke="#ff0000" stroke-width="2.8" stroke-linecap="round" stroke-linejoin="round"/><path d="M481.5,364 L472,374.5 M470.5,364.5 L472,374.5 L483.5,372.5" fill="none" stroke="#ff0000" stroke-width="2.8" stroke-linecap="round" stroke-linejoin="round"/><path d="M531.5,416 L522,424.8 M522.3,415 L522,424.8 L532,424" fill="none" stroke="#ff0000" stroke-width="2.8" stroke-linecap="round" stroke-linejoin="round"/><path d="M567.5,468.4 L558.3,472 M560.8,465 L558.3,472 L566,474.8" fill="none" stroke="#ff0000" stroke-width="3" stroke-linecap="round" stroke-linejoin="round"/><path d="M399.5,539 L407.2,530 M398,531.5 L407.2,530 L407.2,538.7" fill="none" stroke="#0000ff" stroke-width="2.8" stroke-linecap="round" stroke-linejoin="round"/><path d="M492.8,537 L495,528 M489.8,531.5 L495,528 L498.8,534.8" fill="none" stroke="#0000ff" stroke-width="2.8" stroke-linecap="round" stroke-linejoin="round"/><path d="M529.8,533.2 L530.8,522.8 M525.2,527.6 L530.8,522.8 L535.7,529.3" fill="none" stroke="#0000ff" stroke-width="2.8" stroke-linecap="round" stroke-linejoin="round"/><path d="M553.2,531.7 L553.6,521.2 M547.7,526.5 L553.6,521.2 L558.9,527.6" fill="none" stroke="#0000ff" stroke-width="2.8" stroke-linecap="round" stroke-linejoin="round"/><path d="M589.5,399.8 L548.8,462.3 M549.5,452.3 L548.8,462.3 L558.6,457.8" fill="none" stroke="#4a0b0b" stroke-width="2" stroke-linecap="round" stroke-linejoin="round"/><path d="M589.4,555 L574.8,519.3 M573.6,529.8 L574.8,519.3 L585.4,526.1" fill="none" stroke="#4a0b0b" stroke-width="2" stroke-linecap="round" stroke-linejoin="round"/><path d="M566.8,687 L552.8,634.5 M549.2,644.6 L552.8,634.5 L561.2,641.8" fill="none" stroke="#4a0b0b" stroke-width="2" stroke-linecap="round" stroke-linejoin="round"/><text x="581" y="382.8" font-family='"Liberation Sans", sans-serif' font-size="13" fill="#0000ff" textLength="131.5" lengthAdjust="spacingAndGlyphs">Resistance trend line</text><text x="545.4" y="576.7" font-family='"Liberation Sans", sans-serif' font-size="13" fill="#0000ff" textLength="173" lengthAdjust="spacingAndGlyphs">Main Support line at $6,000</text><text x="527.4" y="698.5" font-family='"Liberation Sans", sans-serif' font-size="13" fill="#0000ff" textLength="145" lengthAdjust="spacingAndGlyphs">Bear Targets at $3,000</text><rect x="4" y="960" width="1221" height="1" fill="#4f4f4f" shape-rendering="crispEdges"/><rect x="1225" y="4" width="1" height="957" fill="#4f4f4f" shape-rendering="crispEdges"/><rect x="1226" y="957" width="3" height="1" fill="#4f4f4f" shape-rendering="crispEdges"/><text x="1232" y="961.5" font-family='"Liberation Sans", sans-serif' font-size="11" fill="#4c4c4c">-6000.0</text><rect x="1226" y="921" width="3" height="1" fill="#4f4f4f" shape-rendering="crispEdges"/><text x="1232" y="925.5" font-family='"Liberation Sans", sans-serif' font-size="11" fill="#4c4c4c">-5000.0</text><rect x="1226" y="885" width="3" height="1" fill="#4f4f4f" shape-rendering="crispEdges"/><text x="1232" y="889.5" font-family='"Liberation Sans", sans-serif' font-size="11" fill="#4c4c4c">-4000.0</text><rect x="1226" y="848" width="3" height="1" fill="#4f4f4f" shape-rendering="crispEdges"/><text x="1232" y="852.5" font-family='"Liberation Sans", sans-serif' font-size="11" fill="#4c4c4c">-3000.0</text><rect x="1226" y="812" width="3" height="1" fill="#4f4f4f" shape-rendering="crispEdges"/><text x="1232" y="816.5" font-family='"Liberation Sans", sans-serif' font-size="11" fill="#4c4c4c">-2000.0</text><rect x="1226" y="776" width="3" height="1" fill="#4f4f4f" shape-rendering="crispEdges"/><text x="1232" y="780.5" font-family='"Liberation Sans", sans-serif' font-size="11" fill="#4c4c4c">-1000.0</text><rect x="1226" y="740" width="3" height="1" fill="#4f4f4f" shape-rendering="crispEdges"/><text x="1232" y="744.5" font-family='"Liberation Sans", sans-serif' font-size="11" fill="#4c4c4c">0.0</text><rect x="1226" y="704" width="3" height="1" fill="#4f4f4f" shape-rendering="crispEdges"/><text x="1232" y="708.5" font-family='"Liberation Sans", sans-serif' font-size="11" fill="#4c4c4c">1000.0</text><rect x="1226" y="667" width="3" height="1" fill="#4f4f4f" shape-rendering="crispEdges"/><text x="1232" y="671.5" font-family='"Liberation Sans", sans-serif' font-size="11" fill="#4c4c4c">2000.0</text><rect x="1226" y="631" width="3" height="1" fill="#4f4f4f" shape-rendering="crispEdges"/><text x="1232" y="635.5" font-family='"Liberation Sans", sans-serif' font-size="11" fill="#4c4c4c">3000.0</text><rect x="1226" y="595" width="3" height="1" fill="#4f4f4f" shape-rendering="crispEdges"/><text x="1232" y="599.5" font-family='"Liberation Sans", sans-serif' font-size="11" fill="#4c4c4c">4000.0</text><rect x="1226" y="559" width="3" height="1" fill="#4f4f4f" shape-rendering="crispEdges"/><text x="1232" y="563.5" font-family='"Liberation Sans", sans-serif' font-size="11" fill="#4c4c4c">5000.0</text><rect x="1226" y="523" width="3" height="1" fill="#4f4f4f" shape-rendering="crispEdges"/><text x="1232" y="527.5" font-family='"Liberation Sans", sans-serif' font-size="11" fill="#4c4c4c">6000.0</text><rect x="1226" y="487" width="3" height="1" fill="#4f4f4f" shape-rendering="crispEdges"/><text x="1232" y="491.5" font-family='"Liberation Sans", sans-serif' font-size="11" fill="#4c4c4c">7000.0</text><rect x="1226" y="450" width="3" height="1" fill="#4f4f4f" shape-rendering="crispEdges"/><text x="1232" y="454.5" font-family='"Liberation Sans", sans-serif' font-size="11" fill="#4c4c4c">8000.0</text><rect x="1226" y="414" width="3" height="1" fill="#4f4f4f" shape-rendering="crispEdges"/><text x="1232" y="418.5" font-family='"Liberation Sans", sans-serif' font-size="11" fill="#4c4c4c">9000.0</text><rect x="1226" y="378" width="3" height="1" fill="#4f4f4f" shape-rendering="crispEdges"/><text x="1232" y="382.5" font-family='"Liberation Sans", sans-serif' font-size="11" fill="#4c4c4c">10000.0</text><rect x="1226" y="342" width="3" height="1" fill="#4f4f4f" shape-rendering="crispEdges"/><text x="1232" y="346.5" font-family='"Liberation Sans", sans-serif' font-size="11" fill="#4c4c4c">11000.0</text><rect x="1226" y="306" width="3" height="1" fill="#4f4f4f" shape-rendering="crispEdges"/><text x="1232" y="310.5" font-family='"Liberation Sans", sans-serif' font-size="11" fill="#4c4c4c">12000.0</text><rect x="1226" y="269" width="3" height="1" fill="#4f4f4f" shape-rendering="crispEdges"/><text x="1232" y="273.5" font-family='"Liberation Sans", sans-serif' font-size="11" fill="#4c4c4c">13000.0</text><rect x="1226" y="233" width="3" height="1" fill="#4f4f4f" shape-rendering="crispEdges"/><text x="1232" y="237.5" font-family='"Liberation Sans", sans-serif' font-size="11" fill="#4c4c4c">14000.0</text><rect x="1226" y="197" width="3" height="1" fill="#4f4f4f" shape-rendering="crispEdges"/><text x="1232" y="201.5" font-family='"Liberation Sans", sans-serif' font-size="11" fill="#4c4c4c">15000.0</text><rect x="1226" y="161" width="3" height="1" fill="#4f4f4f" shape-rendering="crispEdges"/><text x="1232" y="165.5" font-family='"Liberation Sans", sans-serif' font-size="11" fill="#4c4c4c">16000.0</text><rect x="1226" y="125" width="3" height="1" fill="#4f4f4f" shape-rendering="crispEdges"/><text x="1232" y="129.5" font-family='"Liberation Sans", sans-serif' font-size="11" fill="#4c4c4c">17000.0</text><rect x="1226" y="89" width="3" height="1" fill="#4f4f4f" shape-rendering="crispEdges"/><text x="1232" y="93.5" font-family='"Liberation Sans", sans-serif' font-size="11" fill="#4c4c4c">18000.0</text><rect x="1226" y="52" width="3" height="1" fill="#4f4f4f" shape-rendering="crispEdges"/><text x="1232" y="56.5" font-family='"Liberation Sans", sans-serif' font-size="11" fill="#4c4c4c">19000.0</text><rect x="1226" y="16" width="3" height="1" fill="#4f4f4f" shape-rendering="crispEdges"/><text x="1232" y="20.5" font-family='"Liberation Sans", sans-serif' font-size="11" fill="#4c4c4c">20000.0</text><rect x="1226" y="959" width="50" height="26" fill="#fff"/><rect x="72" y="961" width="1" height="3" fill="#4f4f4f" shape-rendering="crispEdges"/><text x="72.5" y="978" text-anchor="middle" font-family='"Liberation Sans", sans-serif' font-size="11" font-weight="normal" fill="#4c4c4c">Sep</text><rect x="149" y="961" width="1" height="3" fill="#4f4f4f" shape-rendering="crispEdges"/><text x="149.5" y="978" text-anchor="middle" font-family='"Liberation Sans", sans-serif' font-size="11" font-weight="bold" fill="#4c4c4c">2017</text><rect x="227" y="961" width="1" height="3" fill="#4f4f4f" shape-rendering="crispEdges"/><text x="227.5" y="978" text-anchor="middle" font-family='"Liberation Sans", sans-serif' font-size="11" font-weight="normal" fill="#4c4c4c">May</text><rect x="308" y="961" width="1" height="3" fill="#4f4f4f" shape-rendering="crispEdges"/><text x="308.5" y="978" text-anchor="middle" font-family='"Liberation Sans", sans-serif' font-size="11" font-weight="normal" fill="#4c4c4c">Sep</text><rect x="386" y="961" width="1" height="3" fill="#4f4f4f" shape-rendering="crispEdges"/><text x="386.5" y="978" text-anchor="middle" font-family='"Liberation Sans", sans-serif' font-size="11" font-weight="bold" fill="#4c4c4c">2018</text><rect x="467" y="961" width="1" height="3" fill="#4f4f4f" shape-rendering="crispEdges"/><text x="467.5" y="978" text-anchor="middle" font-family='"Liberation Sans", sans-serif' font-size="11" font-weight="normal" fill="#4c4c4c">May</text><rect x="545" y="961" width="1" height="3" fill="#4f4f4f" shape-rendering="crispEdges"/><text x="545.5" y="978" text-anchor="middle" font-family='"Liberation Sans", sans-serif' font-size="11" font-weight="normal" fill="#4c4c4c">Sep</text><rect x="627" y="961" width="1" height="3" fill="#4f4f4f" shape-rendering="crispEdges"/><text x="627.5" y="978" text-anchor="middle" font-family='"Liberation Sans", sans-serif' font-size="11" font-weight="bold" fill="#4c4c4c">2019</text><rect x="704" y="961" width="1" height="3" fill="#4f4f4f" shape-rendering="crispEdges"/><text x="704.5" y="978" text-anchor="middle" font-family='"Liberation Sans", sans-serif' font-size="11" font-weight="normal" fill="#4c4c4c">May</text><rect x="781" y="961" width="1" height="3" fill="#4f4f4f" shape-rendering="crispEdges"/><text x="781.5" y="978" text-anchor="middle" font-family='"Liberation Sans", sans-serif' font-size="11" font-weight="normal" fill="#4c4c4c">Sep</text><rect x="863" y="961" width="1" height="3" fill="#4f4f4f" shape-rendering="crispEdges"/><text x="863.5" y="978" text-anchor="middle" font-family='"Liberation Sans", sans-serif' font-size="11" font-weight="bold" fill="#4c4c4c">2020</text><rect x="940" y="961" width="1" height="3" fill="#4f4f4f" shape-rendering="crispEdges"/><rect x="1022" y="961" width="1" height="3" fill="#4f4f4f" shape-rendering="crispEdges"/><text x="1022.5" y="978" text-anchor="middle" font-family='"Liberation Sans", sans-serif' font-size="11" font-weight="normal" fill="#4c4c4c">Sep</text><rect x="1099" y="961" width="1" height="3" fill="#4f4f4f" shape-rendering="crispEdges"/><text x="1099.5" y="978" text-anchor="middle" font-family='"Liberation Sans", sans-serif' font-size="11" font-weight="bold" fill="#4c4c4c">2021</text><rect x="1177" y="961" width="1" height="3" fill="#4f4f4f" shape-rendering="crispEdges"/><text x="1177.5" y="978" text-anchor="middle" font-family='"Liberation Sans", sans-serif' font-size="11" font-weight="normal" fill="#4c4c4c">May</text><rect x="895" y="960" width="61" height="22" fill="#4c525e"/><text x="925.5" y="975" text-anchor="middle" font-family='"Liberation Sans", sans-serif' font-size="11" fill="#fff">13 Apr '20</text><rect x="926" y="960" width="1" height="4" fill="#fff"/><rect x="1207" y="296" width="17" height="17" fill="#4c525e"/><path d="M1210.5,304.5 H1220.5 M1215.5,299.5 V309.5" stroke="#fff" stroke-width="1" shape-rendering="crispEdges"/><rect x="1225" y="296" width="51" height="17" fill="#4c525e"/><text x="1232" y="307.8" font-family='"Liberation Sans", sans-serif' font-size="11" font-weight="bold" fill="#fff">12045.2</text><rect x="1225" y="499" width="45" height="17" fill="#d75442"/><text x="1232" y="510.8" font-family='"Liberation Sans", sans-serif' font-size="11" font-weight="bold" fill="#fff">6423.0</text><rect x="1225" y="516" width="45" height="17" fill="#000"/><text x="1232" y="527.8" font-family='"Liberation Sans", sans-serif' font-size="11" font-weight="bold" fill="#fff">6139.0</text><rect x="1225" y="623" width="45" height="17" fill="#000"/><text x="1232" y="634.8" font-family='"Liberation Sans", sans-serif' font-size="11" font-weight="bold" fill="#fff">2998.7</text><rect x="1226" y="304" width="3" height="1" fill="#fff"/><rect x="1226" y="507" width="3" height="1" fill="#fff"/><rect x="1226" y="518" width="3" height="1" fill="#fff"/><rect x="1226" y="631" width="3" height="1" fill="#fff"/><circle cx="1211" cy="22" r="7" fill="none" stroke="#ff9850" stroke-width="1.6"/><rect x="1210" y="17.5" width="1.8" height="5.5" fill="#ff9850"/><rect x="1210" y="24.3" width="1.8" height="1.6" fill="#ff9850"/><rect x="9.5" y="16.5" width="12" height="12" rx="1.5" fill="none" stroke="#6f6f6f" stroke-width="1.1"/><rect x="11" y="22" width="9" height="1" fill="#6f6f6f"/><path d="M30,17 H42 L39,22.5 L42,28 H30 Z" fill="#b9bcc7"/><text x="46.8" y="29" font-family='"Liberation Sans", sans-serif' font-size="17" font-weight="normal" text-anchor="start" fill="#4a4a4a" textLength="53" lengthAdjust="spacingAndGlyphs">Bitcoin</text><text x="106.2" y="29" font-family='"Liberation Sans", sans-serif' font-size="17" font-weight="normal" text-anchor="start" fill="#4a4a4a">/</text><text x="118.8" y="29" font-family='"Liberation Sans", sans-serif' font-size="17" font-weight="normal" text-anchor="start" fill="#4a4a4a" textLength="50" lengthAdjust="spacingAndGlyphs">Dollar,</text><text x="175.6" y="29" font-family='"Liberation Sans", sans-serif' font-size="17" font-weight="normal" text-anchor="start" fill="#4a4a4a" textLength="29" lengthAdjust="spacingAndGlyphs">1W,</text><text x="210.0" y="29" font-family='"Liberation Sans", sans-serif' font-size="17" font-weight="normal" text-anchor="start" fill="#4a4a4a" textLength="68.5" lengthAdjust="spacingAndGlyphs">BITFINEX</text><path d="M282.4,21 L289.7,21 L286.05,25 Z" fill="#b2b5be"/><text x="304.6" y="29" font-family='"Liberation Sans", sans-serif' font-size="15" font-weight="normal" text-anchor="start" fill="#555555">O</text><text x="372.6" y="29" font-family='"Liberation Sans", sans-serif' font-size="15" font-weight="normal" text-anchor="start" fill="#555555">H</text><text x="441.0" y="29" font-family='"Liberation Sans", sans-serif' font-size="15" font-weight="normal" text-anchor="start" fill="#555555">L</text><text x="506.3" y="29" font-family='"Liberation Sans", sans-serif' font-size="15" font-weight="normal" text-anchor="start" fill="#555555">C</text><text x="316.6" y="29" font-family='"Liberation Sans", sans-serif' font-size="15" font-weight="normal" text-anchor="start" fill="#5f1616" textLength="46.2" lengthAdjust="spacingAndGlyphs">6491.8</text><text x="384.6" y="29" font-family='"Liberation Sans", sans-serif' font-size="15" font-weight="normal" text-anchor="start" fill="#5f1616" textLength="46.2" lengthAdjust="spacingAndGlyphs">6615.0</text><text x="450.4" y="29" font-family='"Liberation Sans", sans-serif' font-size="15" font-weight="normal" text-anchor="start" fill="#5f1616" textLength="46.8" lengthAdjust="spacingAndGlyphs">6385.0</text><text x="517.4" y="29" font-family='"Liberation Sans", sans-serif' font-size="15" font-weight="normal" text-anchor="start" fill="#5f1616" textLength="46" lengthAdjust="spacingAndGlyphs">6423.0</text><text x="575.5" y="29" font-family='"Liberation Sans", sans-serif' font-size="15" font-weight="normal" text-anchor="start" fill="#5f1616" textLength="39" lengthAdjust="spacingAndGlyphs">−68.8</text><text x="619" y="29" font-family='"Liberation Sans", sans-serif' font-size="15" font-weight="normal" text-anchor="start" fill="#5f1616" textLength="59.5" lengthAdjust="spacingAndGlyphs">(−1.06%)</text><text x="8.8" y="48.2" font-family='"Liberation Sans", sans-serif' font-size="12.5" font-weight="normal" text-anchor="start" fill="#555555" textLength="41" lengthAdjust="spacingAndGlyphs">Vol (10)</text><path d="M55,42.7 L62,42.7 L58.5,46 Z" fill="#b2b5be"/><rect x="72.3" y="37.2" width="13.5" height="13.7" fill="#d4d4d4"/><rect x="89.3" y="37.2" width="13.5" height="13.7" fill="#d4d4d4"/><rect x="106.3" y="37.2" width="13.5" height="13.7" fill="#d4d4d4"/><rect x="123.3" y="37.2" width="13.5" height="13.7" fill="#d4d4d4"/><ellipse cx="79" cy="44" rx="5" ry="3.8" fill="none" stroke="#fff" stroke-width="1.7"/><circle cx="79" cy="44" r="1.9" fill="none" stroke="#fff" stroke-width="1.3"/><path d="M95.70,39.00 L96.71,39.10 L97.12,40.78 L97.76,41.12 L99.38,40.52 L100.02,41.31 L99.12,42.78 L99.33,43.48 L100.90,44.20 L100.80,45.21 L99.12,45.62 L98.78,46.26 L99.38,47.88 L98.59,48.52 L97.12,47.62 L96.42,47.83 L95.70,49.40 L94.69,49.30 L94.28,47.62 L93.64,47.28 L92.02,47.88 L91.38,47.09 L92.28,45.62 L92.07,44.92 L90.50,44.20 L90.60,43.19 L92.28,42.78 L92.62,42.14 L92.02,40.52 L92.81,39.88 L94.28,40.78 L94.98,40.57 Z" fill="#fff"/><circle cx="95.7" cy="44.2" r="1.4" fill="#d4d4d4"/><path d="M112.7,39.6 V48.6 M108.3,44.1 H117.1" stroke="#fff" stroke-width="2.2"/><path d="M125.9,40.1 L133.9,48.1 M133.9,40.1 L125.9,48.1" stroke="#fff" stroke-width="1.5"/><text x="145" y="48.5" font-family='"Liberation Sans", sans-serif' font-size="12.5" font-weight="normal" text-anchor="start" fill="#e23c4b" textLength="41.5" lengthAdjust="spacingAndGlyphs">43.947K</text><text x="196.2" y="48.5" font-family='"Liberation Sans", sans-serif' font-size="12.5" font-weight="normal" text-anchor="start" fill="#ff9347" textLength="47.5" lengthAdjust="spacingAndGlyphs">107.844K</text><rect x="581.5" y="-2" width="125" height="17.5" rx="2" fill="rgba(255,255,255,0.85)" stroke="#e2e2e2" stroke-width="1"/><text x="585.3" y="11.7" font-family='"Liberation Sans", sans-serif' font-size="10.5" font-weight="normal" text-anchor="start" fill="#b4b4b4" textLength="115.5" lengthAdjust="spacingAndGlyphs">Exit Full Screen (ESC)</text><text x="19.6" y="1008" font-family='"Liberation Sans", sans-serif' font-size="13.5" font-weight="normal" text-anchor="start" fill="#131722" textLength="16.2" lengthAdjust="spacingAndGlyphs">1D</text><text x="49.2" y="1008" font-family='"Liberation Sans", sans-serif' font-size="13.5" font-weight="normal" text-anchor="start" fill="#131722" textLength="16.8" lengthAdjust="spacingAndGlyphs">5D</text><text x="79.8" y="1008" font-family='"Liberation Sans", sans-serif' font-size="13.5" font-weight="normal" text-anchor="start" fill="#131722" textLength="19" lengthAdjust="spacingAndGlyphs">1M</text><text x="111.1" y="1008" font-family='"Liberation Sans", sans-serif' font-size="13.5" font-weight="normal" text-anchor="start" fill="#131722" textLength="19.6" lengthAdjust="spacingAndGlyphs">3M</text><text x="142.9" y="1008" font-family='"Liberation Sans", sans-serif' font-size="13.5" font-weight="normal" text-anchor="start" fill="#131722" textLength="19.4" lengthAdjust="spacingAndGlyphs">6M</text><text x="175.4" y="1008" font-family='"Liberation Sans", sans-serif' font-size="13.5" font-weight="normal" text-anchor="start" fill="#131722" textLength="24.6" lengthAdjust="spacingAndGlyphs">YTD</text><text x="213.3" y="1008" font-family='"Liberation Sans", sans-serif' font-size="13.5" font-weight="normal" text-anchor="start" fill="#131722" textLength="15.2" lengthAdjust="spacingAndGlyphs">1Y</text><text x="241.3" y="1008" font-family='"Liberation Sans", sans-serif' font-size="13.5" font-weight="normal" text-anchor="start" fill="#131722" textLength="15.2" lengthAdjust="spacingAndGlyphs">5Y</text><text x="268.8" y="1008" font-family='"Liberation Sans", sans-serif' font-size="13.5" font-weight="normal" text-anchor="start" fill="#131722" textLength="16.2" lengthAdjust="spacingAndGlyphs">All</text><rect x="301" y="991" width="1" height="22" fill="#e6e9ec"/><text x="318" y="1008" font-family='"Liberation Sans", sans-serif' font-size="13.5" font-weight="normal" text-anchor="start" fill="#131722" textLength="49.5" lengthAdjust="spacingAndGlyphs">Go to...</text><text x="999.2" y="1008" font-family='"Liberation Sans", sans-serif' font-size="13.5" font-weight="normal" text-anchor="start" fill="#131722" textLength="104.5" lengthAdjust="spacingAndGlyphs">00:10:19 (UTC+3)</text><rect x="1120" y="991" width="1" height="22" fill="#e6e9ec"/><text x="1137.8" y="1008" font-family='"Liberation Sans", sans-serif' font-size="13.5" fill="#131722">%</text><text x="1163.75" y="1008" font-family='"Liberation Sans", sans-serif' font-size="13.5" fill="#131722">log</text><text x="1197" y="1008" font-family='"Liberation Sans", sans-serif' font-size="13.5" fill="#131722">auto</text><circle cx="1250" cy="1002.8" r="3.55" fill="none" stroke="#131722" stroke-width="1.6"/><path d="M1253.80,1002.80 L1256.90,1002.80 M1252.69,1005.49 L1254.88,1007.68 M1250.00,1006.60 L1250.00,1009.70 M1247.31,1005.49 L1245.12,1007.68 M1246.20,1002.80 L1243.10,1002.80 M1247.31,1000.11 L1245.12,997.92 M1250.00,999.00 L1250.00,995.90 M1252.69,1000.11 L1254.88,997.92 " stroke="#131722" stroke-width="1.9"/></svg>
</body></html>
